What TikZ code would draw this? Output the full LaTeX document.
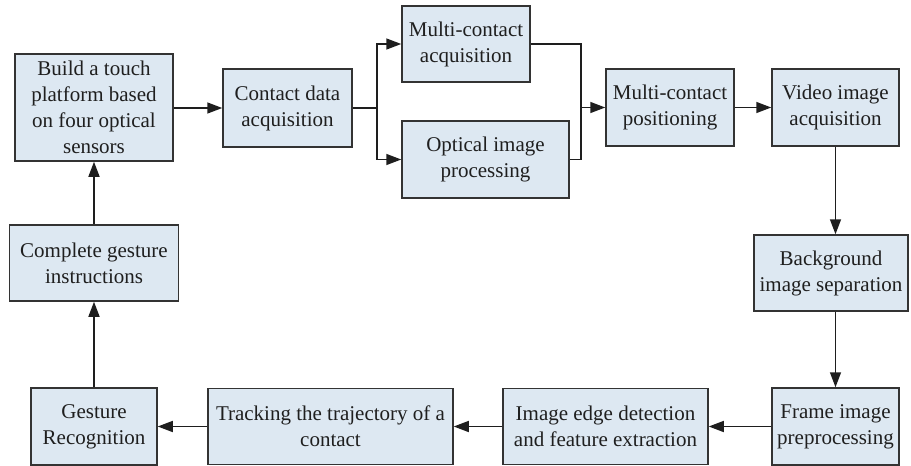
\documentclass[tikz,border=0pt]{standalone}
\usepackage{fontspec}
\setmainfont{Liberation Serif}
\usetikzlibrary{arrows.meta}
\definecolor{boxfill}{HTML}{DDE8F2}
\definecolor{boxline}{HTML}{333333}
\definecolor{wire}{HTML}{1E1E1E}
\begin{document}
\begin{tikzpicture}[x=1pt,y=-1pt,
  blk/.style={draw=boxline,fill=boxfill,line width=1.5pt,align=center,inner sep=0pt,
    font=\rmfamily\fontsize{21}{26}\selectfont,text=black!88},
  link/.style={draw=wire,line width=1.5pt},
  arr/.style={link,-{Triangle[length=15pt,width=11pt]}}]
\useasboundingbox (0,0) rectangle (911,466);
\node[blk,minimum width=158pt,minimum height=107pt] (b1) at (94,107.5) {Build a touch\\platform based\\on four optical\\sensors};
\node[blk,minimum width=129pt,minimum height=78pt] (b2) at (287.5,108) {Contact data\\acquisition};
\node[blk,minimum width=128pt,minimum height=76pt] (b3) at (466,44) {Multi-contact\\acquisition};
\node[blk,minimum width=167pt,minimum height=77pt] (b4) at (485.5,159.5) {Optical image\\processing};
\node[blk,minimum width=128pt,minimum height=77pt] (b5) at (670,107.5) {Multi-contact\\positioning};
\node[blk,minimum width=127pt,minimum height=77pt] (b6) at (835.5,107.5) {Video image\\acquisition};
\node[blk,minimum width=154pt,minimum height=76pt] (b7) at (831,273) {Background\\image separation};
\node[blk,minimum width=127pt,minimum height=77pt] (b8) at (835.5,426.5) {Frame image\\preprocessing};
\node[blk,minimum width=205pt,minimum height=76pt] (b9) at (605.5,426.5) {Image edge detection\\and feature extraction};
\node[blk,minimum width=245pt,minimum height=76pt] (b10) at (330.5,426.5) {Tracking the trajectory of a\\contact};
\node[blk,minimum width=126pt,minimum height=77pt] (b11) at (94,426.5) {Gesture\\Recognition};
\node[blk,minimum width=169pt,minimum height=76pt] (b12) at (94,263) {Complete gesture\\instructions};
\coordinate (s) at (377,108);
\coordinate (m) at (581,107.5);
\draw[arr] (b1.east |- b2.east) -- (b2.west);
\draw[link] (b2.east) -- (s);
\draw[arr] (s) |- (b3.west);
\draw[arr] (s) |- (b4.west);
\draw[link] (b3.east) -| (m) |- (b4.east);
\draw[arr] (m) -- (b5.west);
\draw[arr] (b5.east) -- (b6.west);
\draw[arr] (b6.south) -- (b6.south |- b7.north);
\draw[arr] (b6.south |- b7.south) -- (b8.north);
\draw[arr] (b8.west) -- (b9.east);
\draw[arr] (b9.west) -- (b10.east);
\draw[arr] (b10.west) -- (b11.east);
\draw[arr] (b11.north) -- (b11.north |- b12.south);
\draw[arr] (b12.north) -- (b12.north |- b1.south);
\end{tikzpicture}
\end{document}
